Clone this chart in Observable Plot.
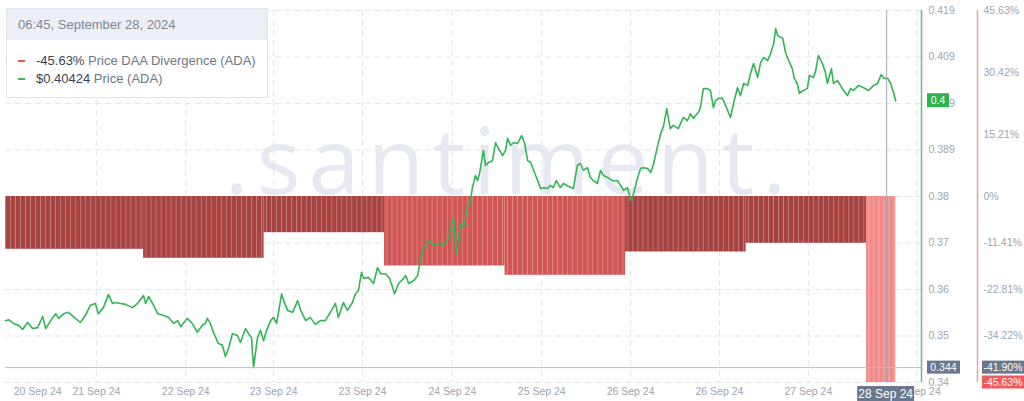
<!DOCTYPE html>
<html>
<head>
<meta charset="utf-8">
<script src="https://cdn.jsdelivr.net/npm/d3@7"></script>
<script src="https://cdn.jsdelivr.net/npm/@observablehq/plot@0.6"></script>
<style>
  html, body { margin:0; padding:0; background:#fff; }
  #wrap { position:relative; width:1024px; height:401px; overflow:hidden; font-family:"Liberation Sans", Arial, sans-serif; }
  #chart svg { display:block; }
  .wm text { letter-spacing: 8px; }
  #tip { position:absolute; left:6px; top:8px; width:262px; height:90px; border:1px solid #e0e4eb; background:#fff; box-sizing:border-box; }
  #tip .hd { height:31px; background:#eceff6; color:#7e8696; font-size:13px; line-height:31px; padding-left:11px; }
  #tip .row { position:absolute; left:11px; font-size:13px; line-height:16px; color:#6f7684; white-space:nowrap; }
  #tip .row b { font-weight:normal; color:#3b4150; }
  #tip .mk { display:inline-block; width:7px; height:2px; vertical-align:middle; margin-right:11px; position:relative; top:-1px; }
</style>
</head>
<body>
<div id="wrap">
  <svg width="0" height="0" style="position:absolute">
    <defs>
      <pattern id="stripes" patternUnits="userSpaceOnUse" width="5.02" height="8">
        <rect x="0" y="0" width="0.8" height="8" fill="#ffffff" fill-opacity="0.33"></rect>
      </pattern>
    </defs>
  </svg>
  <div id="chart"></div>
  <div id="tip"></div>
</div>
<script>
// ---------------- data ----------------
const tooltipTime = "06:45, September 28, 2024";
const legendValues = ["-45.63%", "$0.40424"];
const legendNames = ["Price DAA Divergence (ADA)", "Price (ADA)"];

// daily Price DAA Divergence (%), bars start at these times
const barStarts = ["2024-09-20T20:30:00Z","2024-09-22T00:00:00Z","2024-09-23T00:00:00Z","2024-09-24T00:00:00Z",
                   "2024-09-25T00:00:00Z","2024-09-26T00:00:00Z","2024-09-27T00:00:00Z","2024-09-28T00:00:00Z"];
const barDivergence = [-12.95, -15.16, -8.88, -17.05, -19.33, -13.61, -11.48, -45.63];

// price (ADA, USD): [hours since 2024-09-20 20:30 UTC, price]
const priceSeries = [
[0,.3533],[0.6,.3535],[1.6,.3527],[2.6,.3523],[3.4,.3514],[4.4,.3529],[5.4,.3516],[6.4,.3518],[7.4,.3542],[8.0,.3516],
[9.0,.3533],[10.0,.3548],[10.6,.3538],[11.6,.3548],[12.5,.3551],[13.3,.3544],[14.9,.3529],[15.9,.3544],[16.9,.3566],[17.9,.3570],
[18.5,.3548],[19.5,.3561],[20.5,.3589],[21.3,.3570],[21.9,.3572],[22.9,.3570],[23.9,.3568],[25.3,.3561],[26.3,.3570],[27.5,.3587],
[27.9,.3570],[28.5,.3585],[29.5,.3566],[30.3,.3548],[31.5,.3544],[32.5,.3540],[33.5,.3527],[34.3,.3533],[34.9,.3520],[36.2,.3538],
[37.2,.3527],[38.2,.3508],[39.2,.3523],[39.8,.3527],[40.2,.3538],[40.8,.3527],[41.4,.3508],[42.4,.3484],[43.2,.3480],[43.8,.3456],
[44.4,.3473],[45.2,.3505],[46.2,.3501],[46.8,.3486],[47.8,.3516],[48.4,.3505],[49.0,.3497],[49.4,.3432],[50.2,.3497],[50.8,.3512],
[51.4,.3490],[52.0,.3512],[52.8,.3533],[53.4,.3540],[54.0,.3527],[55.0,.3591],[55.4,.3576],[56.2,.3555],[57.2,.3551],[58.2,.3576],
[58.8,.3555],[59.8,.3533],[60.7,.3540],[61.7,.3525],[62.7,.3533],[63.7,.3533],[64.7,.3551],[65.7,.3570],[66.3,.3540],[67.3,.3572],
[68.1,.3555],[69.1,.3572],[69.7,.3591],[70.3,.3598],[70.9,.3637],[71.3,.3624],[72.3,.3626],[73.3,.3613],[74.1,.3647],[74.7,.3634],
[75.7,.3634],[76.5,.3624],[77.5,.3591],[78.3,.3613],[79.3,.3624],[79.7,.3630],[80.3,.3613],[81.3,.3619],[82.1,.3630],[82.7,.3669],
[83.3,.3690],[84.2,.3705],[85.2,.3695],[86.2,.3699],[87.2,.3695],[88.2,.3710],[89.2,.3755],[89.8,.3677],[90.6,.3742],[91.2,.3733],
[92.0,.3776],[92.6,.3791],[93.0,.3819],[93.6,.3845],[94.0,.3834],[94.4,.3849],[95.2,.3899],[95.6,.3867],[96.2,.3873],[97.0,.3877],
[97.6,.3916],[98.2,.3903],[99.0,.3888],[99.6,.3899],[100.0,.3925],[100.6,.3910],[101.2,.3916],[102.0,.3914],[102.8,.3931],[103.4,.3914],
[104.0,.3877],[104.6,.3873],[105.2,.3856],[106.0,.3834],[106.6,.3817],[107.2,.3819],[108.0,.3817],[108.5,.3824],[109.1,.3819],[109.7,.3834],
[110.5,.3819],[111.1,.3828],[112.1,.3822],[113.1,.3817],[113.9,.3867],[114.5,.3871],[115.1,.3856],[115.9,.3862],[116.5,.3841],[117.1,.3834],
[117.9,.3828],[118.5,.3856],[119.1,.3845],[119.9,.3841],[120.9,.3834],[121.9,.3834],[122.5,.3824],[123.1,.3813],[123.9,.3819],[124.5,.3791],
[125.1,.3806],[125.9,.3841],[126.5,.3860],[127.1,.3862],[127.9,.3860],[128.5,.3852],[129.1,.3871],[129.9,.3910],[130.5,.3935],[131.1,.3953],
[131.7,.3989],[132.4,.3946],[133.0,.3953],[134.0,.3946],[135.0,.3970],[135.8,.3963],[136.4,.3978],[137.0,.3968],[138.0,.3981],[138.4,.3991],
[139.0,.4032],[139.8,.4032],[140.4,.4028],[141.0,.3991],[141.4,.4006],[142.0,.4011],[142.8,.4011],[143.4,.3996],[144.4,.3970],[145.0,.4000],
[145.8,.4034],[146.4,.4017],[147.0,.4043],[147.8,.4039],[148.4,.4065],[149.0,.4086],[149.8,.4056],[150.4,.4088],[151.0,.4099],[151.8,.4092],
[152.4,.4108],[153.0,.4129],[153.4,.4161],[153.8,.4146],[154.8,.4140],[155.4,.4108],[156.0,.4092],[156.7,.4075],[157.1,.4054],[157.7,.4043],
[158.1,.4022],[158.9,.4028],[159.7,.4032],[160.1,.4060],[160.9,.4056],[161.3,.4067],[161.9,.4103],[162.7,.4086],[163.3,.4067],[163.7,.4043],
[164.5,.4075],[164.9,.4043],[165.7,.4049],[166.3,.4039],[166.9,.4028],[167.7,.4017],[168.3,.4032],[168.9,.4028],[169.9,.4039],[170.9,.4034],
[171.9,.4028],[172.9,.4039],[173.7,.4043],[174.4,.4062],[175.0,.4054],[175.7,.4054],[176.3,.4043],[176.9,.4022],[177.3,.4006]
];

// axes
const priceTickValues = [0.34, 0.35, 0.36, 0.37, 0.38, 0.39, 0.40, 0.41, 0.42];
const priceTickLabels = ["0.34", "0.35", "0.36", "0.37", "0.38", "0.389", "0.399", "0.409", "0.419"];
const pctTickValues = [45.63, 30.42, 15.21, 0, -11.41, -22.81, -34.22, -45.63];
const pctTickLabels = ["45.63%", "30.42%", "15.21%", "0%", "-11.41%", "-22.81%", "-34.22%", "-45.63%"];
const xTickHours = [6.4, 18.1, 35.9, 53.4, 71.1, 89.0, 106.8, 124.5, 142.2, 159.9, 181.5];
const xTickLabels = ["20 Sep 24", "21 Sep 24", "22 Sep 24", "23 Sep 24", "23 Sep 24", "24 Sep 24",
                     "25 Sep 24", "26 Sep 24", "26 Sep 24", "27 Sep 24", "28 Sep 24"];

// crosshair (hovered point) and its labels
const crossHour = 175.5;
const crossPrice = 0.3432;
const crossPriceLabel = "0.344";
const crossPctLabel = "-41.90%";
const crossDateLabel = "28 Sep 24";
const lastPriceLabel = "0.4";
const lastPctLabel = "-45.63%";

// ---------------- scales helpers ----------------
const START = Date.UTC(2024, 8, 20, 20, 30);
const END_HOUR = 182.44;
const atHour = h => new Date(START + h * 3600e3);
const PRICE_MIN = 0.34, PRICE_ZERO = 0.38, PRICE_MAX = 0.42, PCT_MAX = 45.63;
const pctToPrice = v => PRICE_ZERO + v / PCT_MAX * (PRICE_MAX - PRICE_ZERO);

const price = priceSeries.map(([h, p]) => ({date: atHour(h), price: p}));
const lastPoint = price[price.length - 1];
const barFills = ["#a84343", "#a84343", "#a84343", "#d15656", "#d15656", "#a64242", "#a64242", "#f28a8a"];
const bars = barStarts.map((s, i) => ({
  start: new Date(s),
  end: i < barStarts.length - 1 ? new Date(barStarts[i + 1]) : lastPoint.date,
  value: barDivergence[i],
  fill: barFills[i]
}));
const priceLabel = new Map(priceTickValues.map((v, i) => [v, priceTickLabels[i]]));
const pctTickPrices = pctTickValues.map(pctToPrice);
const pctLabel = new Map(pctTickPrices.map((v, i) => [v, pctTickLabels[i]]));
const xTickDates = xTickHours.map(atHour);
const xLabel = new Map(xTickDates.map((d, i) => [+d, xTickLabels[i]]));
const domainEnd = atHour(END_HOUR);
const crossDate = atHour(crossHour);

// badges drawn with the plot's own scales
function badges(index, scales, values, dims) {
  const g = d3.create("svg:g").attr("font-family", "Liberation Sans, Arial, sans-serif");
  const right = dims.width - dims.marginRight;
  const items = [
    {x: right + 6, w: 22, cy: scales.y(lastPoint.price), h: 14, fill: "#2fb24f", text: lastPriceLabel, fs: 10.5},
    {x: right + 6, w: 33, cy: scales.y(crossPrice), h: 13, fill: "#6a778d", text: crossPriceLabel, fs: 10.5},
    {x: right + 61, w: 42, cy: scales.y(crossPrice), h: 13, fill: "#6a778d", text: crossPctLabel, fs: 10.5},
    {x: right + 61, w: 42, cy: scales.y(pctToPrice(-45.63)), h: 13, fill: "#f25a5a", text: lastPctLabel, fs: 10.5},
    {x: scales.x(crossDate) - 29, w: 57, cy: dims.height - 7.5, h: 15, fill: "#6a778d", text: crossDateLabel, fs: 12}
  ];
  for (const b of items) {
    g.append("rect").attr("x", b.x).attr("y", b.cy - b.h / 2).attr("width", b.w).attr("height", b.h).attr("fill", b.fill);
    g.append("text").attr("x", b.x + b.w / 2).attr("y", b.cy).attr("dy", "0.35em")
      .attr("text-anchor", "middle").attr("fill", "#fff").attr("font-size", b.fs).text(b.text);
  }
  return g.node();
}

const axisColor = "#9ea4af";
const chart = Plot.plot({
  width: 1024,
  height: 401,
  marginLeft: 5,
  marginRight: 103,
  marginTop: 10,
  marginBottom: 19,
  style: {fontFamily: "Liberation Sans, Arial, sans-serif", fontSize: "10.5px", background: "transparent", overflow: "visible"},
  x: {type: "utc", domain: [new Date(START), domainEnd], axis: null},
  y: {domain: [PRICE_MIN, PRICE_MAX], axis: null},
  color: {type: "identity"},
  marks: [
    Plot.text([".santiment."], {frameAnchor: "middle", dx: 46, dy: -32, fontSize: 92, fill: "#e6e9f1",
      fontFamily: "Open Sans, Liberation Sans, sans-serif", className: "wm"}),
    Plot.gridY(priceTickValues, {stroke: "#e2e5eb", strokeOpacity: 1, strokeDasharray: "6,4"}),
    Plot.gridX(xTickDates.slice(1), {stroke: "#e2e5eb", strokeOpacity: 1, strokeDasharray: "6,4"}),
    Plot.rect(bars, {x1: "start", x2: "end", y1: () => PRICE_ZERO, y2: d => pctToPrice(d.value), fill: "fill"}),
    Plot.rect(bars, {x1: "start", x2: "end", y1: () => PRICE_ZERO, y2: d => pctToPrice(d.value), fill: "url(#stripes)"}),
    Plot.ruleX([domainEnd], {stroke: "#5cc477", strokeWidth: 1.5}),
    Plot.ruleX([domainEnd], {stroke: "#e0a4a4", strokeWidth: 1.5, dx: 56}),
    Plot.line(price, {x: "date", y: "price", stroke: "#33b554", strokeWidth: 1.6}),
    Plot.ruleX([crossDate], {stroke: "#a6abb6"}),
    Plot.ruleY([crossPrice], {stroke: "#b9bdc6"}),
    Plot.axisY(priceTickValues, {anchor: "right", label: null, tickSize: 0, tickPadding: 7, tickFormat: d => priceLabel.get(d), color: axisColor}),
    Plot.axisY(pctTickPrices, {anchor: "right", label: null, tickSize: 0, tickPadding: 62, tickFormat: d => pctLabel.get(d), color: axisColor}),
    Plot.axisX(xTickDates, {anchor: "bottom", label: null, tickSize: 0, tickPadding: 5, tickFormat: d => xLabel.get(+d), color: axisColor}),
    badges
  ]
});
document.getElementById("chart").appendChild(chart);

// tooltip / legend box
const tip = d3.select("#tip");
tip.append("div").attr("class", "hd").text(tooltipTime);
const legendColors = ["#e25a5a", "#3cb95a"];
legendNames.forEach((name, i) => {
  const row = tip.append("div").attr("class", "row").style("top", (44 + i * 18) + "px");
  row.append("span").attr("class", "mk").style("background", legendColors[i]);
  row.append("b").text(legendValues[i]);
  row.append("span").text(" " + name);
});
</script>
</body>
</html>
